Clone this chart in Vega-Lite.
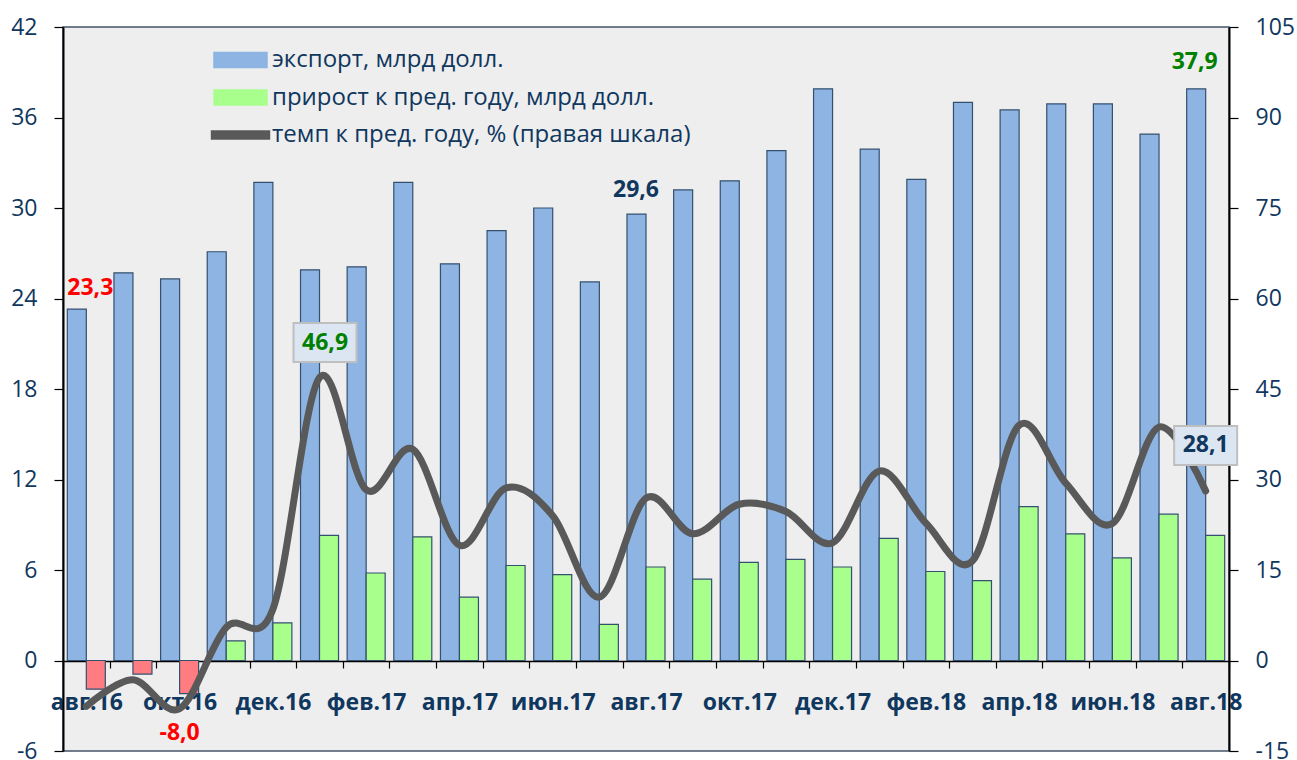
{
  "$schema": "https://vega.github.io/schema/vega-lite/v6.json",
  "width": 1166,
  "height": 724,
  "autosize": {"type": "none"},
  "padding": {"left": 63, "top": 27, "right": 68, "bottom": 9},
  "background": "white",
  "config": {
    "view": {"fill": "#EEEEEE", "stroke": "#44546A", "strokeWidth": 1.5},
    "font": "Open Sans",
    "locale": {"number": {"decimal": ",", "thousands": " ", "grouping": [3], "currency": ["", ""], "minus": "-"}}
  },
  "datasets": {
    "bars": [
      {"month": "авг.16", "series": "exp", "value": 23.3}, {"month": "авг.16", "series": "gr", "value": -1.9},
      {"month": "сен.16", "series": "exp", "value": 25.7}, {"month": "сен.16", "series": "gr", "value": -0.9},
      {"month": "окт.16", "series": "exp", "value": 25.3}, {"month": "окт.16", "series": "gr", "value": -2.2},
      {"month": "ноя.16", "series": "exp", "value": 27.1}, {"month": "ноя.16", "series": "gr", "value": 1.3},
      {"month": "дек.16", "series": "exp", "value": 31.7}, {"month": "дек.16", "series": "gr", "value": 2.5},
      {"month": "янв.17", "series": "exp", "value": 25.9}, {"month": "янв.17", "series": "gr", "value": 8.3},
      {"month": "фев.17", "series": "exp", "value": 26.1}, {"month": "фев.17", "series": "gr", "value": 5.8},
      {"month": "мар.17", "series": "exp", "value": 31.7}, {"month": "мар.17", "series": "gr", "value": 8.2},
      {"month": "апр.17", "series": "exp", "value": 26.3}, {"month": "апр.17", "series": "gr", "value": 4.2},
      {"month": "май.17", "series": "exp", "value": 28.5}, {"month": "май.17", "series": "gr", "value": 6.3},
      {"month": "июн.17", "series": "exp", "value": 30.0}, {"month": "июн.17", "series": "gr", "value": 5.7},
      {"month": "июл.17", "series": "exp", "value": 25.1}, {"month": "июл.17", "series": "gr", "value": 2.4},
      {"month": "авг.17", "series": "exp", "value": 29.6}, {"month": "авг.17", "series": "gr", "value": 6.2},
      {"month": "сен.17", "series": "exp", "value": 31.2}, {"month": "сен.17", "series": "gr", "value": 5.4},
      {"month": "окт.17", "series": "exp", "value": 31.8}, {"month": "окт.17", "series": "gr", "value": 6.5},
      {"month": "ноя.17", "series": "exp", "value": 33.8}, {"month": "ноя.17", "series": "gr", "value": 6.7},
      {"month": "дек.17", "series": "exp", "value": 37.9}, {"month": "дек.17", "series": "gr", "value": 6.2},
      {"month": "янв.18", "series": "exp", "value": 33.9}, {"month": "янв.18", "series": "gr", "value": 8.1},
      {"month": "фев.18", "series": "exp", "value": 31.9}, {"month": "фев.18", "series": "gr", "value": 5.9},
      {"month": "мар.18", "series": "exp", "value": 37.0}, {"month": "мар.18", "series": "gr", "value": 5.3},
      {"month": "апр.18", "series": "exp", "value": 36.5}, {"month": "апр.18", "series": "gr", "value": 10.2},
      {"month": "май.18", "series": "exp", "value": 36.9}, {"month": "май.18", "series": "gr", "value": 8.4},
      {"month": "июн.18", "series": "exp", "value": 36.9}, {"month": "июн.18", "series": "gr", "value": 6.8},
      {"month": "июл.18", "series": "exp", "value": 34.9}, {"month": "июл.18", "series": "gr", "value": 9.7},
      {"month": "авг.18", "series": "exp", "value": 37.9}, {"month": "авг.18", "series": "gr", "value": 8.3}
    ],
    "line": [
      {"month": "авг.16", "pct": -7.6}, {"month": "сен.16", "pct": -3.2}, {"month": "окт.16", "pct": -8.0},
      {"month": "ноя.16", "pct": 5.5}, {"month": "дек.16", "pct": 8.5}, {"month": "янв.17", "pct": 46.9},
      {"month": "фев.17", "pct": 28.3}, {"month": "мар.17", "pct": 35.0}, {"month": "апр.17", "pct": 19.1},
      {"month": "май.17", "pct": 28.6}, {"month": "июн.17", "pct": 24.0}, {"month": "июл.17", "pct": 10.5},
      {"month": "авг.17", "pct": 26.9}, {"month": "сен.17", "pct": 21.0}, {"month": "окт.17", "pct": 25.9},
      {"month": "ноя.17", "pct": 24.7}, {"month": "дек.17", "pct": 19.5}, {"month": "янв.18", "pct": 31.4},
      {"month": "фев.18", "pct": 22.8}, {"month": "мар.18", "pct": 16.5}, {"month": "апр.18", "pct": 39.0},
      {"month": "май.18", "pct": 29.4}, {"month": "июн.18", "pct": 22.7}, {"month": "июл.18", "pct": 38.7},
      {"month": "авг.18", "pct": 28.1}
    ]
  },
  "encoding": {
    "x": {
      "field": "month", "type": "nominal",
      "scale": {"domain": ["авг.16","сен.16","окт.16","ноя.16","дек.16","янв.17","фев.17","мар.17","апр.17","май.17","июн.17","июл.17","авг.17","сен.17","окт.17","ноя.17","дек.17","янв.18","фев.18","мар.18","апр.18","май.18","июн.18","июл.18","авг.18"], "paddingInner": 0, "paddingOuter": 0},
      "axis": {
        "orient": "bottom", "offset": -90, "title": null, "grid": false, "zindex": 0,
        "tickBand": "extent", "tickSize": 7, "tickColor": "#000000", "tickWidth": 1.2,
        "domainColor": "#000000", "domainWidth": 1.5,
        "labelFont": "Open Sans", "labelFontWeight": "bold", "labelFontSize": 23, "labelColor": "#10375E",
        "labelPadding": 23, "labelAngle": 0, "labelOverlap": false,
        "labelExpr": "indexof(['авг.16','окт.16','дек.16','фев.17','апр.17','июн.17','авг.17','окт.17','дек.17','фев.18','апр.18','июн.18','авг.18'], datum.value) >= 0 ? datum.value : ''"
      }
    }
  },
  "layer": [
    {
      "data": {"name": "bars"},
      "encoding": {
        "y": {
          "field": "value", "type": "quantitative",
          "scale": {"domain": [-6, 42], "nice": false, "zero": false},
          "axis": {
            "orient": "left", "values": [-6, 0, 6, 12, 18, 24, 30, 36, 42], "title": null, "grid": false,
            "domainColor": "#000000", "domainWidth": 2, "tickColor": "#000000", "tickWidth": 1.2, "tickSize": 9,
            "labelPadding": 17, "labelFont": "Open Sans", "labelFontSize": 23, "labelColor": "#10375E"
          }
        }
      },
      "layer": [
        {
          "mark": {"type": "bar", "stroke": "#34506F", "strokeWidth": 1.2},
          "encoding": {
            "xOffset": {"field": "series", "type": "nominal", "scale": {"domain": ["exp", "gr"], "paddingOuter": 0.227, "paddingInner": 0}},
            "color": {
              "condition": {"test": "datum.value < 0", "value": "#FF7C80"},
              "field": "series", "type": "nominal",
              "scale": {"domain": ["exp", "gr", "pct"], "range": ["#8DB4E2", "#A8FF8C", "#595959"]},
              "legend": {
                "orient": "none", "legendX": 160.5, "legendY": 16, "title": null, "padding": 0,
                "labelFont": "Open Sans", "labelFontSize": 24, "labelColor": "#10375E", "labelLimit": 1000,
                "symbolSize": 1024, "rowPadding": 8.5, "labelOffset": 14.5, "symbolOpacity": 1, "symbolStrokeWidth": 1.5,
                "symbolType": {"expr": "datum.value === 'pct' ? 'M-1.81,-0.25H1.81V0.25H-1.81Z' : 'M-1.656,-0.47H1.656V0.47H-1.656Z'"},
                "symbolStrokeColor": {"expr": "datum.value === 'pct' ? '#595959' : '#34506F'"},
                "labelExpr": "datum.value === 'exp' ? 'экспорт, млрд долл.' : datum.value === 'gr' ? 'прирост к пред. году, млрд долл.' : 'темп к пред. году, % (правая шкала)'"
              }
            }
          }
        },
        {
          "transform": [{"filter": "datum.series === 'exp' && datum.month === 'авг.16'"}],
          "mark": {"type": "text", "font": "Open Sans", "fontWeight": "bold", "fontSize": 23, "color": "#FF0000", "baseline": "alphabetic", "align": "center", "dx": 4, "dy": -14},
          "encoding": {"text": {"field": "value", "type": "quantitative", "format": ".1f"}}
        },
        {
          "transform": [{"filter": "datum.series === 'exp' && datum.month === 'авг.17'"}],
          "mark": {"type": "text", "font": "Open Sans", "fontWeight": "bold", "fontSize": 23, "color": "#10375E", "baseline": "alphabetic", "align": "center", "dx": -10, "dy": -17},
          "encoding": {"text": {"field": "value", "type": "quantitative", "format": ".1f"}}
        },
        {
          "transform": [{"filter": "datum.series === 'exp' && datum.month === 'авг.18'"}],
          "mark": {"type": "text", "font": "Open Sans", "fontWeight": "bold", "fontSize": 23, "color": "#008000", "baseline": "alphabetic", "align": "center", "dx": -11, "dy": -20},
          "encoding": {"text": {"field": "value", "type": "quantitative", "format": ".1f"}}
        }
      ]
    },
    {
      "data": {"name": "line"},
      "encoding": {
        "y": {
          "field": "pct", "type": "quantitative",
          "scale": {"domain": [-15, 105], "nice": false, "zero": false},
          "axis": {
            "orient": "right", "values": [-15, 0, 15, 30, 45, 60, 75, 90, 105], "title": null, "grid": false,
            "domainColor": "#000000", "domainWidth": 2, "tickColor": "#000000", "tickWidth": 1.2, "tickSize": 9,
            "labelPadding": 17, "labelFont": "Open Sans", "labelFontSize": 23, "labelColor": "#10375E"
          }
        }
      },
      "layer": [
        {
          "mark": {"type": "line", "interpolate": "cardinal", "tension": 0, "strokeWidth": 7, "strokeCap": "round", "strokeJoin": "round"},
          "encoding": {"color": {"datum": "pct", "type": "nominal"}}
        },
        {
          "transform": [{"filter": "datum.month === 'окт.16'"}],
          "mark": {"type": "text", "font": "Open Sans", "fontWeight": "bold", "fontSize": 23, "color": "#FF0000", "baseline": "middle", "align": "center", "dy": 24},
          "encoding": {"text": {"field": "pct", "type": "quantitative", "format": ".1f"}}
        },
        {
          "transform": [{"filter": "datum.month === 'янв.17'"}],
          "mark": {"type": "point", "shape": "M-1,-0.62H1V0.62H-1Z", "size": 3969, "filled": true, "fill": "#DCE6F2", "stroke": "#BFBFBF", "strokeWidth": 2, "opacity": 1, "xOffset": 5.5, "yOffset": -35}
        },
        {
          "transform": [{"filter": "datum.month === 'янв.17'"}],
          "mark": {"type": "text", "font": "Open Sans", "fontWeight": "bold", "fontSize": 23, "color": "#008000", "baseline": "middle", "align": "center", "dx": 5.5, "dy": -35},
          "encoding": {"text": {"field": "pct", "type": "quantitative", "format": ".1f"}}
        },
        {
          "transform": [{"filter": "datum.month === 'авг.18'"}],
          "mark": {"type": "point", "shape": "M-1,-0.62H1V0.62H-1Z", "size": 3969, "filled": true, "fill": "#DCE6F2", "stroke": "#BFBFBF", "strokeWidth": 2, "opacity": 1, "xOffset": 0, "yOffset": -45.5}
        },
        {
          "transform": [{"filter": "datum.month === 'авг.18'"}],
          "mark": {"type": "text", "font": "Open Sans", "fontWeight": "bold", "fontSize": 23, "color": "#10375E", "baseline": "middle", "align": "center", "dy": -45.5},
          "encoding": {"text": {"field": "pct", "type": "quantitative", "format": ".1f"}}
        }
      ]
    }
  ],
  "resolve": {"scale": {"y": "independent"}}
}
